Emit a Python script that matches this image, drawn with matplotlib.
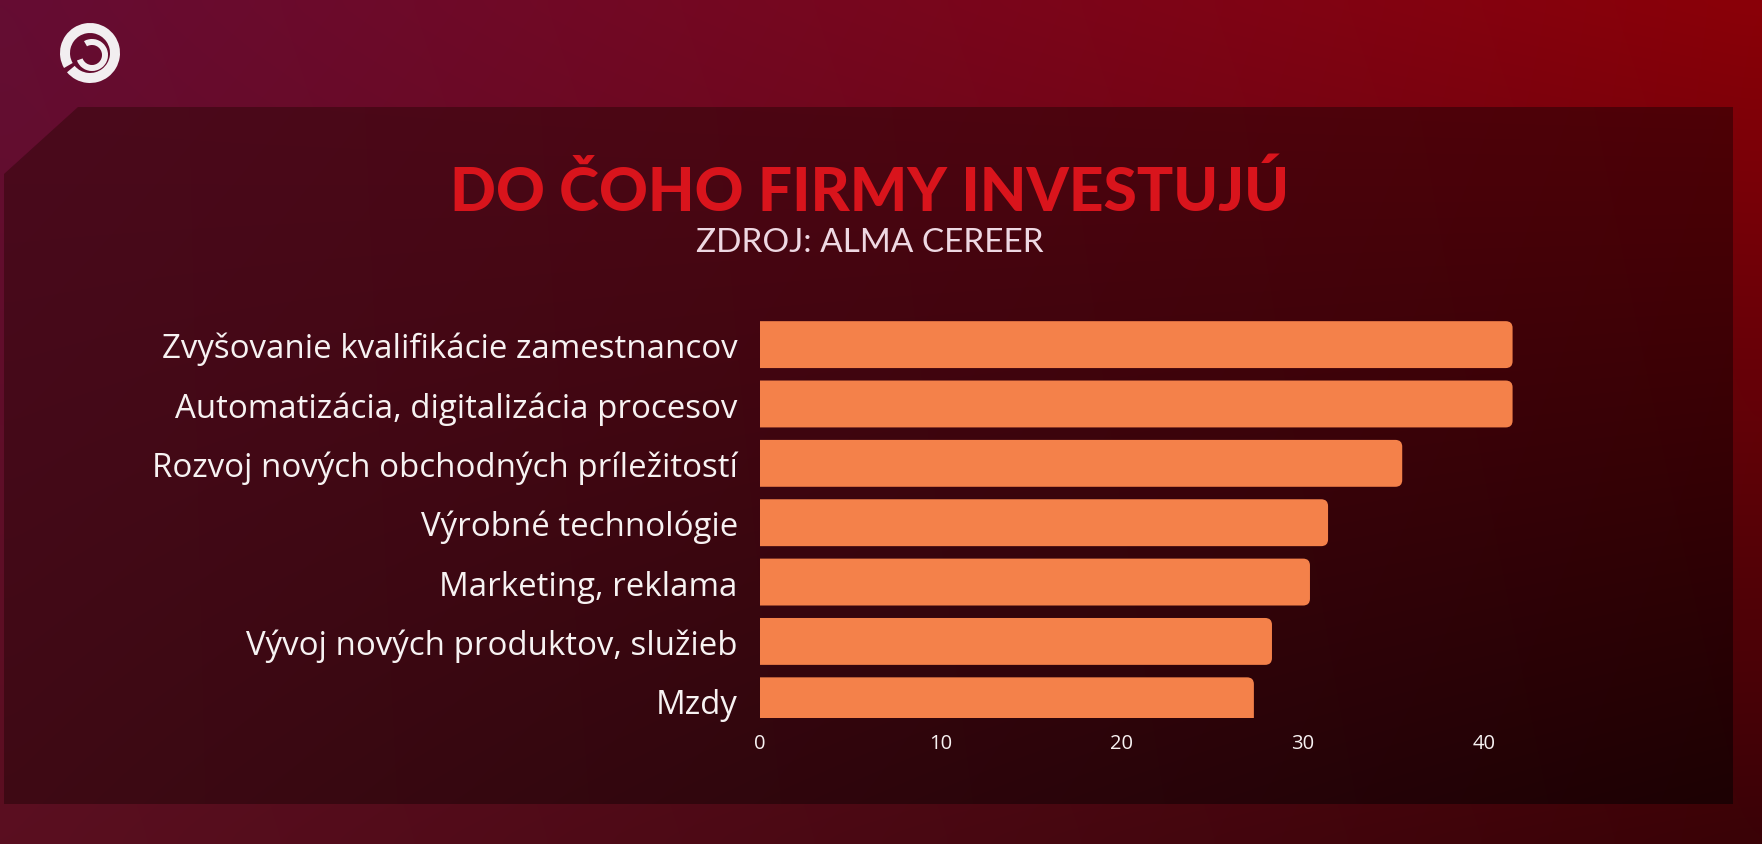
import numpy as np
import matplotlib
matplotlib.use("Agg")
import matplotlib.pyplot as plt
from matplotlib.patches import Polygon, Wedge, FancyBboxPatch
from matplotlib.colors import to_rgb

# ---- data ----
categories = [
    "Zvyšovanie kvalifikácie zamestnancov",
    "Automatizácia, digitalizácia procesov",
    "Rozvoj nových obchodných príležitostí",
    "Výrobné technológie",
    "Marketing, reklama",
    "Vývoj nových produktov, služieb",
    "Mzdy",
]
values = [41.6, 41.6, 35.5, 31.4, 30.4, 28.3, 27.3]
xticks = [0, 10, 20, 30, 40]
title = "DO ČOHO FIRMY INVESTUJÚ"
subtitle = "ZDROJ: ALMA CEREER"

W, H = 1762, 845
fig = plt.figure(figsize=(W / 100, H / 100), dpi=100)

# ---- background ----
bg = fig.add_axes([0, 0, 1, 1])
bg.set_xlim(0, W)
bg.set_ylim(H, 0)
bg.axis("off")


def grad4(tl, tr, bl, br, n=64):
    tl, tr, bl, br = [np.array(to_rgb(c)) for c in (tl, tr, bl, br)]
    u = np.linspace(0, 1, n)[None, :, None]
    v = np.linspace(0, 1, n)[:, None, None]
    top = tl * (1 - u) + tr * u
    bot = bl * (1 - u) + br * u
    return top * (1 - v) + bot * v


bg.imshow(grad4("#650d33", "#8a0008", "#5a0f20", "#3a0206"),
          extent=[0, W, H, 0], aspect="auto", interpolation="bicubic", zorder=0)

panel_pts = [(78, 108), (1733, 108), (1733, 805), (4, 805), (4, 175)]
panel = Polygon(panel_pts, closed=True, facecolor="none", edgecolor="none")
bg.add_patch(panel)
im = bg.imshow(grad4("#4c0a1e", "#560006", "#3e0a14", "#1a0103"),
               extent=[0, W, H, 0], aspect="auto", interpolation="bicubic", zorder=1)
im.set_clip_path(panel)

# logo (spiral-like mark)
cx, cy = 90, 54
logo_c = "#f2eef0"
bg.add_patch(Wedge((cx, cy), 30, 150, 500, width=10, facecolor=logo_c,
                   edgecolor="none", zorder=3))
bg.add_patch(Wedge((cx + 2, cy + 2), 16, 240, 520, width=6, facecolor=logo_c,
                   edgecolor="none", zorder=3))

# ---- titles ----
fig.text(870 / W, 1 - 192 / H, title, ha="center", va="center",
         fontsize=43.5, fontweight="black", family="Lato", color="#d9141c")
fig.text(870 / W, 1 - 243 / H, subtitle, ha="center", va="center",
         fontsize=24, fontweight="normal", family="Lato", color="#eed8e2")

# ---- chart ----
left_px, right_px = 760, 1556
top_px, bot_px = 310, 719
ax = fig.add_axes([left_px / W, 1 - bot_px / H,
                   (right_px - left_px) / W, (bot_px - top_px) / H])
ax.set_facecolor("none")
y = np.arange(len(categories))
bars = ax.barh(y, values, height=0.79, color="#f4814a", edgecolor="none")
ax.set_xlim(0, 44)
ax.set_ylim(6.29, -0.6)

# rounded right ends; the left rounded corners fall outside the axes and are clipped
r = 0.38
for b in bars:
    bx, by, bw, bh = b.get_x(), b.get_y(), b.get_width(), b.get_height()
    ax.add_patch(FancyBboxPatch((bx - 2 * r, by), bw + 2 * r, bh,
                                boxstyle=f"round,pad=0,rounding_size={r}",
                                mutation_aspect=0.30, facecolor="#f4814a",
                                edgecolor="none", zorder=2))
    b.set_visible(False)

ax.set_yticks(y)
ax.set_yticklabels(categories, family="Open Sans", fontsize=23.8, color="#f7f2f2")
ax.set_xticks(xticks)
ax.set_xticklabels([str(t) for t in xticks], family="Open Sans", fontsize=14.5,
                   color="#f7f2f2")
ax.tick_params(axis="y", length=0, pad=16)
ax.tick_params(axis="x", length=0, pad=11)
for s in ax.spines.values():
    s.set_visible(False)

fig.savefig("out.png", dpi=100)
